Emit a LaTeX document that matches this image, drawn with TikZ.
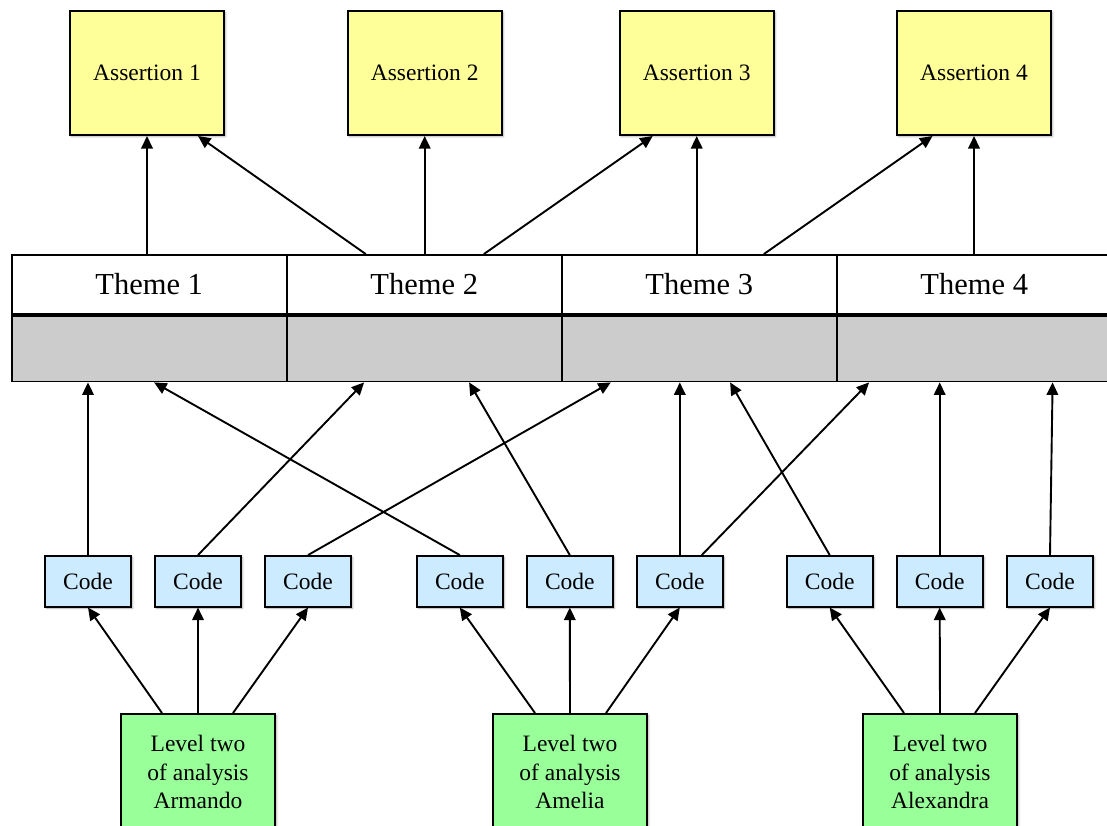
\documentclass[tikz,border=0pt]{standalone}
\usepackage{fontspec}
\setmainfont{Liberation Serif}
\usetikzlibrary{arrows.meta,shadows.blur}

\definecolor{assertfill}{HTML}{FFFF99}
\definecolor{codefill}{HTML}{CCEBFF}
\definecolor{levelfill}{HTML}{99FF99}
\definecolor{bandgray}{HTML}{CCCCCC}

\begin{document}
\begin{tikzpicture}[x=1pt,y=-1pt,
  boxshadow/.style={blur shadow={shadow xshift=1.5pt,shadow yshift=-1.5pt,
      shadow blur radius=2pt,shadow opacity=35}},
  basebox/.style={draw, line width=2pt, inner sep=0pt, boxshadow},
  assertbox/.style={basebox, fill=assertfill, minimum width=154pt,
      minimum height=124pt, font=\fontsize{23.5}{28}\selectfont},
  codebox/.style={basebox, fill=codefill, minimum width=86pt,
      minimum height=50.5pt, font=\fontsize{23.5}{28}\selectfont},
  levelbox/.style={basebox, fill=levelfill, minimum width=154pt,
      minimum height=116pt, align=center, font=\fontsize{23.5}{28.7}\selectfont},
  themecell/.style={draw, line width=1.8pt, fill=white, minimum width=275pt,
      minimum height=59pt, inner sep=0pt, font=\fontsize{30.5}{36}\selectfont},
  graycell/.style={draw, line width=1.8pt, fill=bandgray, minimum width=275pt,
      minimum height=67.5pt, inner sep=0pt},
  link/.style={line width=1.9pt, -{Triangle[length=12.5pt,width=11.5pt]}},
]
\useasboundingbox (0,0) rectangle (1107,825);

% assertions
\node[assertbox] (a1) at (147,73)   {Assertion 1};
\node[assertbox] (a2) at (424.7,73) {Assertion 2};
\node[assertbox] (a3) at (696.7,73) {Assertion 3};
\node[assertbox] (a4) at (974,73)   {Assertion 4};

% theme band: header row and grey row
\node[themecell] (t1) at (149.2,284.5) {Theme 1};
\node[themecell] (t2) at (424.2,284.5) {Theme 2};
\node[themecell] (t3) at (699.2,284.5) {Theme 3};
\node[themecell] (t4) at (974.2,284.5) {Theme 4};
\node[graycell] (g1) at (149.2,347.75) {};
\node[graycell] (g2) at (424.2,347.75) {};
\node[graycell] (g3) at (699.2,347.75) {};
\node[graycell] (g4) at (974.2,347.75) {};
\draw[line width=3.8pt] (t1.south west) -- (t4.south east);

% codes
\node[codebox] (c1) at (88,581.3)    {Code};
\node[codebox] (c2) at (198,581.3)   {Code};
\node[codebox] (c3) at (308,581.3)   {Code};
\node[codebox] (c4) at (459.8,581.3) {Code};
\node[codebox] (c5) at (569.8,581.3) {Code};
\node[codebox] (c6) at (679.8,581.3) {Code};
\node[codebox] (c7) at (829.7,581.3) {Code};
\node[codebox] (c8) at (939.7,581.3) {Code};
\node[codebox] (c9) at (1050,581.3)  {Code};

% level two analyses
\node[levelbox] (l1) at (198,772) {Level two\\of analysis\\Armando};
\node[levelbox] (l2) at (570,772) {Level two\\of analysis\\Amelia};
\node[levelbox] (l3) at (940,772) {Level two\\of analysis\\Alexandra};

% themes to assertions
\draw[link] (a1.south |- t1.north) -- (a1.south);
\draw[link] ([xshift=80pt]t2.north west) -- ([xshift=-27pt]a1.south east);
\draw[link] (a2.south |- t2.north) -- (a2.south);
\draw[link] ([xshift=198pt]t2.north west) -- ([xshift=34pt]a3.south west);
\draw[link] (a3.south |- t3.north) -- (a3.south);
\draw[link] ([xshift=203pt]t3.north west) -- ([xshift=36.5pt]a4.south west);
\draw[link] (a4.south |- t4.north) -- (a4.south);

% codes to themes
\draw[link] (c1.north) -- (c1.north |- g1.south);
\draw[link] (c4.north) -- ([xshift=143.3pt]g1.south west);
\draw[link] (c2.north) -- ([xshift=78.3pt]g2.south west);
\draw[link] (c3.north) -- ([xshift=50pt]g3.south west);
\draw[link] (c5.north) -- ([xshift=183.3pt]g2.south west);
\draw[link] (c6.north) -- (c6.north |- g3.south);
\draw[link] ([xshift=22pt]c6.north) -- ([xshift=33.3pt]g4.south west);
\draw[link] (c7.north) -- ([xshift=169.3pt]g3.south west);
\draw[link] (c8.north) -- (c8.north |- g4.south);
\draw[link] (c9.north) -- ([xshift=-60pt]g4.south east);

% analyses to codes
\draw[link] ([xshift=-36pt]l1.north) -- (c1.south);
\draw[link] (l1.north) -- (c2.south);
\draw[link] ([xshift=35pt]l1.north) -- (c3.south);
\draw[link] ([xshift=-35pt]l2.north) -- (c4.south);
\draw[link] (l2.north) -- (c5.south);
\draw[link] ([xshift=36pt]l2.north) -- (c6.south);
\draw[link] ([xshift=-36pt]l3.north) -- (c7.south);
\draw[link] (l3.north) -- (c8.south);
\draw[link] ([xshift=35pt]l3.north) -- (c9.south);
\end{tikzpicture}
\end{document}
